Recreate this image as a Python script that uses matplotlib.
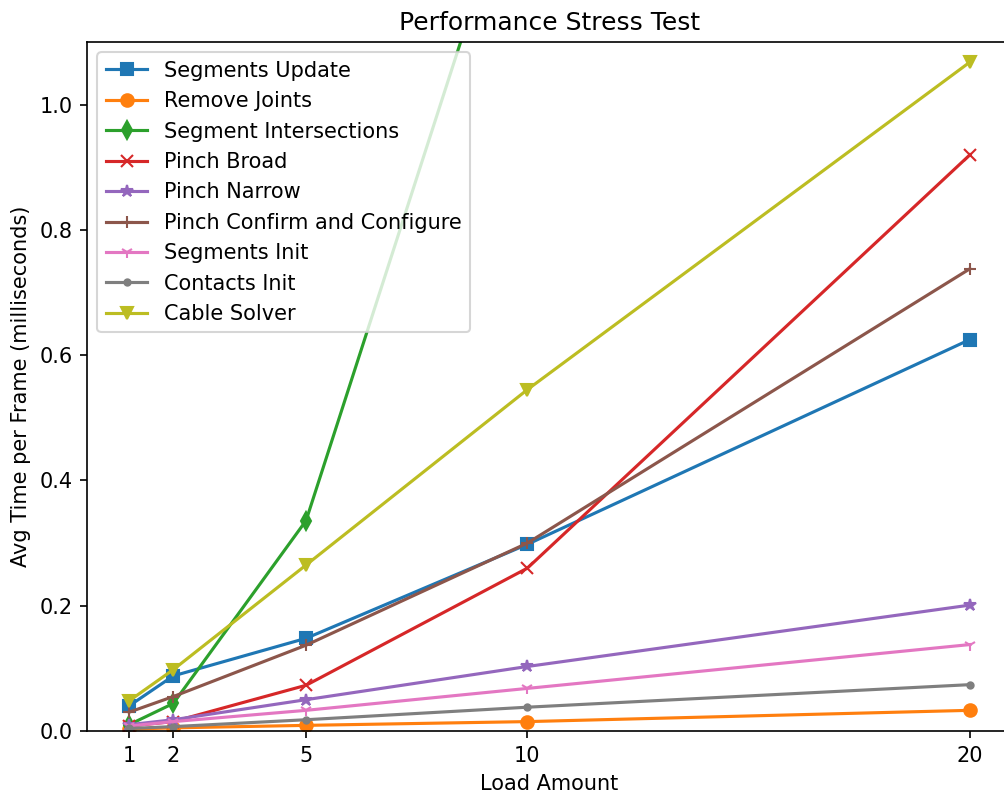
import matplotlib
matplotlib.use("Agg")
import matplotlib.pyplot as plt

loads = [1, 2, 5, 10, 20]

segments_update = [0.040, 0.088, 0.148, 0.298, 0.625]
remove_joints = [0.003, 0.005, 0.009, 0.015, 0.033]
segment_intersections = [0.010, 0.044, 0.336, 1.43, 5.5]
pinch_broad = [0.008, 0.015, 0.073, 0.260, 0.920]
pinch_narrow = [0.010, 0.018, 0.050, 0.103, 0.201]
pinch_confirm = [0.030, 0.055, 0.137, 0.300, 0.738]
segments_init = [0.008, 0.015, 0.033, 0.068, 0.138]
contacts_init = [0.004, 0.007, 0.018, 0.038, 0.074]
cable_solver = [0.048, 0.098, 0.265, 0.545, 1.068]

series = [
    ("Segments Update", segments_update, "s"),
    ("Remove Joints", remove_joints, "o"),
    ("Segment Intersections", segment_intersections, "d"),
    ("Pinch Broad", pinch_broad, "x"),
    ("Pinch Narrow", pinch_narrow, "*"),
    ("Pinch Confirm and Configure", pinch_confirm, "+"),
    ("Segments Init", segments_init, "1"),
    ("Contacts Init", contacts_init, "."),
    ("Cable Solver", cable_solver, "v"),
]

DPI = 150
fig = plt.figure(figsize=(1004 / DPI, 792 / DPI), dpi=DPI)
ax = fig.add_axes([87 / 1004, 61 / 792, 925 / 1004, 689 / 792])
for name, vals, mk in series:
    ax.plot(loads, vals, marker=mk, label=name)

ax.set_ylim(0, 1.1)
ax.set_xticks(loads)
ax.set_xlabel("Load Amount")
ax.set_ylabel("Avg Time per Frame (milliseconds)")
ax.set_title("Performance Stress Test")
ax.legend(loc="upper left")
fig.savefig("out.png", dpi=DPI)
